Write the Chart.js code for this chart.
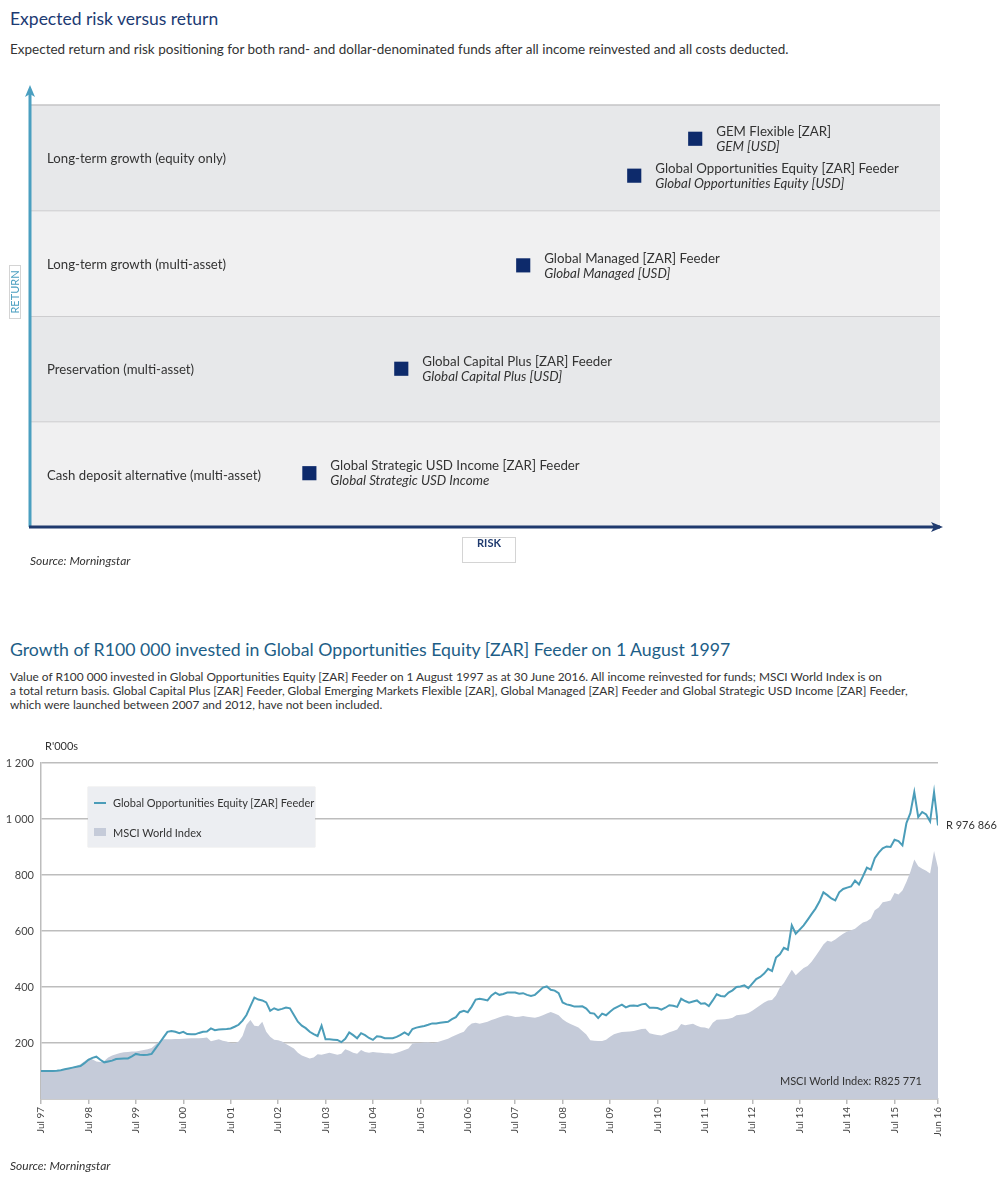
<!DOCTYPE html>
<html>
<head>
<meta charset="utf-8">
<script src="https://cdn.jsdelivr.net/npm/chart.js@4.4.1/dist/chart.umd.min.js"></script>
<style>
  html, body { margin: 0; padding: 0; background: #fff; }
  #page { position: relative; width: 1000px; height: 1184px; font-family: Lato, "Open Sans", sans-serif; color: #333; }
  .abs { position: absolute; margin: 0; white-space: nowrap; }
  .t1 { left: 10px; top: 8px; font-size: 17.5px; font-weight: normal; color: #1c3a73; }
  .sub { left: 10px; top: 41px; font-size: 13.5px; color: #333; }
  .src { font-size: 12px; font-style: italic; color: #333; }
  .t2 { left: 10px; top: 639px; font-size: 17.7px; font-weight: normal; color: #1d5e87; }
  .para { left: 10px; top: 670px; font-size: 11.9px; line-height: 14px; color: #333; }
  .legend { left: 88px; top: 787px; width: 227px; height: 60px; background: #eceef2; box-shadow: 0 0 1px #bbb; font-size: 11px; color: #333; }
  .legend div { position: absolute; left: 25px; }
  .legend span { position: absolute; left: -19px; }
</style>
</head>
<body>
<div id="page">
  <div class="abs t1">Expected risk versus return</div>
  <div class="abs sub">Expected return and risk positioning for both rand- and dollar-denominated funds after all income reinvested and all costs deducted.</div>
  <div class="abs" style="left:0;top:80px;width:1000px;height:500px"><canvas id="riskChart"></canvas></div>
  <div class="abs src" style="left:30px;top:553px">Source: Morningstar</div>

  <div class="abs t2">Growth of R100 000 invested in Global Opportunities Equity [ZAR] Feeder on 1 August 1997</div>
  <div class="abs para">Value of R100 000 invested in Global Opportunities Equity [ZAR] Feeder on 1 August 1997 as at 30 June 2016. All income reinvested for funds; MSCI World Index is on<br>a total return basis. Global Capital Plus [ZAR] Feeder, Global Emerging Markets Flexible [ZAR], Global Managed [ZAR] Feeder and Global Strategic USD Income [ZAR] Feeder,<br>which were launched between 2007 and 2012, have not been included.</div>
  <div class="abs" style="left:0;top:740px;width:1000px;height:420px"><canvas id="growthChart"></canvas></div>
  <div class="abs legend">
    <div style="top:9px"><span style="top:6px;width:12px;height:2px;background:#4b9db9"></span>Global Opportunities Equity [ZAR] Feeder</div>
    <div style="top:39px"><span style="top:2px;width:12px;height:8px;background:#c5cbd9"></span>MSCI World Index</div>
  </div>
  <div class="abs src" style="left:10px;top:1158px">Source: Morningstar</div>
</div>

<script>
// ---- risk vs return ----
var bandLabels = ['Cash deposit alternative (multi-asset)', 'Preservation (multi-asset)', 'Long-term growth (multi-asset)', 'Long-term growth (equity only)'];
var fundNames = ['GEM Flexible [ZAR]', 'Global Opportunities Equity [ZAR] Feeder', 'Global Managed [ZAR] Feeder', 'Global Capital Plus [ZAR] Feeder', 'Global Strategic USD Income [ZAR] Feeder'];
var fundUsdNames = ['GEM [USD]', 'Global Opportunities Equity [USD]', 'Global Managed [USD]', 'Global Capital Plus [USD]', 'Global Strategic USD Income'];
var fundRisk = [73.1, 66.4, 54.2, 40.8, 30.7];
var fundReturn = [3.68, 3.33, 2.48, 1.50, 0.51];

// ---- growth of R100 000 (R'000s, monthly Jul 97 - Jun 16) ----
var feederValues = [
  100,100,100,100,101,103,106,109,112,115,118,128,
  140,147,151,140,131,134,137,143,144,145,145,152,
  161,158,157,158,161,181,200,220,240,243,240,235,
  240,232,231,231,236,240,241,252,246,248,249,250,
  252,258,265,280,300,332,362,355,352,345,315,324,
  318,322,327,324,300,276,262,253,240,232,225,262,
  213,213,212,211,203,215,238,228,217,235,228,218,
  211,224,222,217,217,217,222,229,238,229,250,255,
  258,261,265,270,270,272,274,276,285,292,310,315,
  310,330,355,358,355,352,370,380,372,375,380,380,
  380,376,378,372,368,372,385,398,402,390,387,378,
  345,338,335,330,330,331,323,307,305,289,305,299,
  312,323,330,337,327,333,334,332,338,340,326,326,
  325,319,326,335,333,329,358,350,344,348,352,340,
  342,332,352,374,368,366,380,388,400,402,406,396,
  412,428,436,448,465,457,505,517,540,533,620,590,
  605,620,640,660,680,705,738,728,716,709,738,750,
  755,759,780,766,795,826,819,860,880,895,902,900,
  926,921,906,985,1021,1096,1007,1025,1016,991,1096,977
];
var msciValues = [
  100,100,100,100,102,104,107,110,114,118,124,135,
  145,142,134,132,136,148,155,160,164,167,168,170,
  170,172,175,178,182,195,207,213,213,213,214,214,
  215,216,217,217,217,218,220,206,210,213,208,205,
  200,199,205,225,265,282,262,260,276,240,222,212,
  210,205,196,188,180,165,155,150,145,148,160,158,
  162,165,162,158,162,178,172,165,162,175,168,165,
  168,166,165,163,163,162,165,170,175,180,198,200,
  200,202,203,199,202,206,211,215,222,229,235,240,
  258,270,272,269,272,276,282,287,292,296,299,296,
  293,294,296,294,292,290,294,299,305,311,305,299,
  285,275,268,262,255,243,230,210,208,207,207,212,
  222,231,236,239,240,241,243,246,250,251,235,231,
  229,227,232,238,243,248,268,263,266,269,262,256,
  255,251,272,283,284,285,287,290,299,301,303,307,
  315,325,335,345,352,354,370,398,414,438,462,442,
  455,468,475,490,510,530,552,565,562,570,580,590,
  598,603,608,620,630,635,645,674,684,703,705,709,
  736,730,745,775,811,855,831,822,815,805,886,826
];
var xTickIndex = [0,12,24,36,48,60,72,84,96,108,120,132,144,156,168,180,192,204,216,227];
var xTickLabels = ['Jul 97','Jul 98','Jul 99','Jul 00','Jul 01','Jul 02','Jul 03','Jul 04','Jul 05','Jul 06','Jul 07','Jul 08','Jul 09','Jul 10','Jul 11','Jul 12','Jul 13','Jul 14','Jul 15','Jun 16'];
var feederEndLabel = 'R 976 866';
var msciEndLabel = 'MSCI World Index: R825 771';

var FONT = 'Lato, "Open Sans", sans-serif';

var riskPlugin = {
  id: 'riskBands',
  beforeDatasetsDraw: function(chart) {
    var ctx = chart.ctx, a = chart.chartArea, y = chart.scales.y;
    ctx.save();
    bandLabels.forEach(function(lbl, i) {
      var top = y.getPixelForValue(i + 1), bot = y.getPixelForValue(i);
      ctx.fillStyle = i % 2 ? '#e7e8ea' : '#f0f0f1';
      ctx.fillRect(a.left, top, a.right - a.left, bot - top);
      ctx.strokeStyle = '#c4c4c6';
      ctx.lineWidth = 1.5;
      ctx.beginPath();
      ctx.moveTo(a.left, top);
      ctx.lineTo(a.right, top);
      ctx.stroke();
      ctx.fillStyle = '#333';
      ctx.font = '13.2px ' + FONT;
      ctx.textBaseline = 'middle';
      ctx.fillText(lbl, a.left + 17, (top + bot) / 2 + 1);
    });
    ctx.restore();
  },
  afterDatasetsDraw: function(chart) {
    var ctx = chart.ctx, a = chart.chartArea;
    ctx.save();
    // fund labels
    chart.getDatasetMeta(0).data.forEach(function(pt, i) {
      ctx.fillStyle = '#333';
      ctx.textBaseline = 'middle';
      ctx.font = '13.3px ' + FONT;
      ctx.fillText(fundNames[i], pt.x + 21, pt.y - 7);
      ctx.font = 'italic 13.3px ' + FONT;
      ctx.fillText(fundUsdNames[i], pt.x + 21, pt.y + 8);
    });
    // return axis arrow
    ctx.strokeStyle = '#4a9fc0';
    ctx.fillStyle = '#4a9fc0';
    ctx.lineWidth = 3;
    ctx.beginPath();
    ctx.moveTo(a.left, a.bottom);
    ctx.lineTo(a.left, a.top - 14);
    ctx.stroke();
    ctx.beginPath();
    ctx.moveTo(a.left, a.top - 20);
    ctx.lineTo(a.left - 5, a.top - 8);
    ctx.lineTo(a.left, a.top - 11);
    ctx.lineTo(a.left + 5, a.top - 8);
    ctx.closePath();
    ctx.fill();
    // risk axis arrow
    ctx.strokeStyle = '#1f3a6e';
    ctx.fillStyle = '#1f3a6e';
    ctx.beginPath();
    ctx.moveTo(a.left - 1, a.bottom);
    ctx.lineTo(a.right, a.bottom);
    ctx.stroke();
    ctx.beginPath();
    ctx.moveTo(a.right + 3, a.bottom);
    ctx.lineTo(a.right - 9, a.bottom - 5);
    ctx.lineTo(a.right - 6, a.bottom);
    ctx.lineTo(a.right - 9, a.bottom + 5);
    ctx.closePath();
    ctx.fill();
    // axis titles
    ctx.lineWidth = 1;
    ctx.strokeStyle = '#d4d4d4';
    ctx.fillStyle = '#fff';
    ctx.fillRect(9.5, 185.5, 11, 53);
    ctx.strokeRect(9.5, 185.5, 11, 53);
    ctx.fillRect(462.5, a.bottom + 10.5, 53, 25);
    ctx.strokeRect(462.5, a.bottom + 10.5, 53, 25);
    ctx.save();
    ctx.translate(15, 212);
    ctx.rotate(-Math.PI / 2);
    ctx.fillStyle = '#4a9fc0';
    ctx.font = '11px ' + FONT;
    ctx.textAlign = 'center';
    ctx.textBaseline = 'middle';
    ctx.fillText('RETURN', 0, 0);
    ctx.restore();
    ctx.fillStyle = '#1f3a6e';
    ctx.font = 'bold 11px ' + FONT;
    ctx.textAlign = 'center';
    ctx.textBaseline = 'middle';
    ctx.fillText('RISK', 489, a.bottom + 16);
    ctx.restore();
  }
};

new Chart(document.getElementById('riskChart').getContext('2d'), {
  type: 'scatter',
  data: {
    datasets: [{
      data: fundRisk.map(function(r, i) { return { x: r, y: fundReturn[i] }; }),
      pointStyle: 'rect',
      pointRadius: 10,
      pointHoverRadius: 10,
      backgroundColor: '#0d2a6b',
      borderWidth: 0
    }]
  },
  options: {
    responsive: true,
    maintainAspectRatio: false,
    animation: false,
    layout: { padding: { left: 30, right: 60, top: 25, bottom: 53 } },
    plugins: { legend: { display: false }, tooltip: { enabled: false } },
    scales: {
      x: { display: false, min: 0, max: 100 },
      y: { display: false, min: 0, max: 4 }
    }
  },
  plugins: [riskPlugin]
});

var growthPlugin = {
  id: 'growthLabels',
  afterDatasetsDraw: function(chart) {
    var ctx = chart.ctx, a = chart.chartArea;
    var x = chart.scales.x, y = chart.scales.y;
    var last = feederValues.length - 1;
    ctx.save();
    ctx.fillStyle = '#333';
    ctx.font = '11px ' + FONT;
    ctx.textBaseline = 'middle';
    ctx.fillText(feederEndLabel, x.getPixelForValue(last) + 8, y.getPixelForValue(feederValues[last]));
    ctx.textAlign = 'right';
    ctx.fillText(msciEndLabel, a.right - 16, a.bottom - 18);
    ctx.textAlign = 'left';
    ctx.fillText("R'000s", a.left + 4, a.top - 17);
    ctx.restore();
  }
};

new Chart(document.getElementById('growthChart').getContext('2d'), {
  type: 'line',
  data: {
    datasets: [{
      label: 'Global Opportunities Equity [ZAR] Feeder',
      data: feederValues.map(function(v, i) { return { x: i, y: v }; }),
      borderColor: '#4b9db9',
      borderWidth: 2,
      pointRadius: 0,
      fill: false,
      tension: 0
    }, {
      label: 'MSCI World Index',
      data: msciValues.map(function(v, i) { return { x: i, y: v }; }),
      borderColor: '#c5cbd9',
      borderWidth: 0,
      backgroundColor: '#c5cbd9',
      pointRadius: 0,
      fill: 'origin',
      tension: 0
    }]
  },
  options: {
    responsive: true,
    maintainAspectRatio: false,
    animation: false,
    layout: { padding: { left: 0, right: 62, top: 23, bottom: 0 } },
    plugins: { legend: { display: false }, tooltip: { enabled: false } },
    scales: {
      x: {
        type: 'linear',
        min: 0,
        max: feederValues.length - 1,
        afterBuildTicks: function(s) { s.ticks = xTickIndex.map(function(v) { return { value: v }; }); },
        afterFit: function(s) { s.height = 61; },
        grid: { drawOnChartArea: false, drawTicks: true, tickLength: 5, color: '#bbbbbb', lineWidth: 1.5 },
        border: { display: true, color: '#bbbbbb', width: 1.5 },
        ticks: {
          autoSkip: false,
          maxRotation: 90,
          minRotation: 90,
          padding: 3,
          color: '#444',
          font: { size: 10, family: FONT },
          callback: function(v) { return xTickLabels[xTickIndex.indexOf(v)]; }
        }
      },
      y: {
        min: 0,
        max: 1200,
        afterFit: function(s) { s.width = 41; },
        grid: { color: '#bdbdbd', lineWidth: 1.5, drawTicks: false },
        border: { display: true, color: '#bdbdbd', width: 1.5 },
        ticks: {
          stepSize: 200,
          padding: 7,
          color: '#444',
          font: { size: 11, family: FONT },
          callback: function(v) { return v === 0 ? '' : String(v).replace(/\B(?=(\d{3})+(?!\d))/g, ' '); }
        }
      }
    }
  },
  plugins: [growthPlugin]
});
</script>
</body>
</html>
